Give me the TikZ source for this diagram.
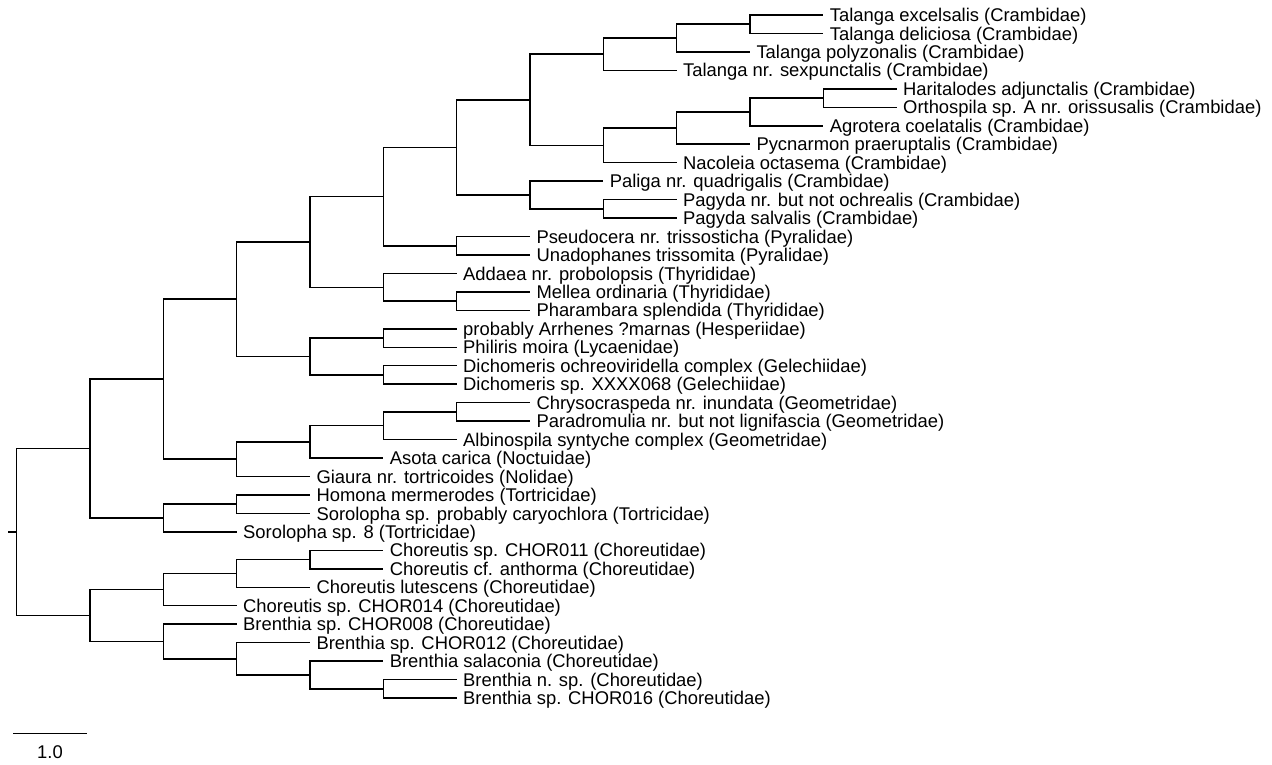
\documentclass[tikz,border=0pt]{standalone}
\usepackage{fontspec}
\setmainfont{Liberation Sans}
\begin{document}
\begin{tikzpicture}[x=1pt,y=-1pt,
  treeline/.style={line width=1.5pt,black,line cap=butt,line join=miter},
  leaflab/.style={anchor=base west,inner sep=0pt,font=\fontsize{18.4}{20}\selectfont,xshift=6.3pt,yshift=-6.6pt},
  scalelab/.style={anchor=base,inner sep=0pt,font=\fontsize{18.4}{20}\selectfont}]
\fill[white] (0,0) rectangle (1272,764);
\useasboundingbox (0,0) rectangle (1272,764);
% internal nodes
\coordinate (stub) at (8.3,532.1);
\coordinate (root) at (16.7,532.1);
\coordinate (nA) at (90,448.6);
\coordinate (nA1) at (163.3,379.2);
\coordinate (n1_21) at (236.7,299.2);
\coordinate (n1_17) at (310,241.9);
\coordinate (n1_14) at (383.3,196.57);
\coordinate (n1_12) at (456.7,147.4);
\coordinate (n1_9) at (530,99.8);
\coordinate (n1_4) at (603.3,54.23);
\coordinate (n1_3) at (676.7,38.08);
\coordinate (n1_2) at (750,24.23);
\coordinate (n5_9) at (603.3,145.37);
\coordinate (n5_8) at (676.7,128.07);
\coordinate (n5_7) at (750,111.92);
\coordinate (n5_6) at (823.3,98.07);
\coordinate (n10_12) at (530,194.99);
\coordinate (n11_12) at (603.3,208.83);
\coordinate (n13_14) at (456.7,245.75);
\coordinate (n15_17) at (383.3,287.28);
\coordinate (n16_17) at (456.7,301.13);
\coordinate (n18_21) at (310,356.51);
\coordinate (n18_19) at (383.3,338.05);
\coordinate (n20_21) at (383.3,374.97);
\coordinate (n22_26) at (236.7,459.2);
\coordinate (n22_25) at (310,441.89);
\coordinate (n22_24) at (383.3,425.74);
\coordinate (n22_23) at (456.7,411.89);
\coordinate (nA2) at (163.3,518.04);
\coordinate (n27_28) at (236.7,504.19);
\coordinate (nB) at (90,615.5);
\coordinate (nB1) at (163.3,589.6);
\coordinate (n30_32) at (236.7,573.4);
\coordinate (n30_31) at (310,559.57);
\coordinate (nB2) at (163.3,641.5);
\coordinate (n35_38) at (236.7,658.8);
\coordinate (n36_38) at (310,674.9);
\coordinate (n37_38) at (383.3,688.79);
% leaf tips
\coordinate (t1) at (823.3,15);
\coordinate (t2) at (823.3,33.46);
\coordinate (t3) at (750,51.92);
\coordinate (t4) at (676.7,70.38);
\coordinate (t5) at (896.7,88.84);
\coordinate (t6) at (896.7,107.3);
\coordinate (t7) at (823.3,125.76);
\coordinate (t8) at (750,144.22);
\coordinate (t9) at (676.7,162.68);
\coordinate (t10) at (603.3,181.14);
\coordinate (t11) at (676.7,199.6);
\coordinate (t12) at (676.7,218.06);
\coordinate (t13) at (530,236.52);
\coordinate (t14) at (530,254.98);
\coordinate (t15) at (456.7,273.44);
\coordinate (t16) at (530,291.9);
\coordinate (t17) at (530,310.36);
\coordinate (t18) at (456.7,328.82);
\coordinate (t19) at (456.7,347.28);
\coordinate (t20) at (456.7,365.74);
\coordinate (t21) at (456.7,384.2);
\coordinate (t22) at (530,402.66);
\coordinate (t23) at (530,421.12);
\coordinate (t24) at (456.7,439.58);
\coordinate (t25) at (383.3,458.04);
\coordinate (t26) at (310,476.5);
\coordinate (t27) at (310,494.96);
\coordinate (t28) at (310,513.42);
\coordinate (t29) at (236.7,531.88);
\coordinate (t30) at (383.3,550.34);
\coordinate (t31) at (383.3,568.8);
\coordinate (t32) at (310,587.26);
\coordinate (t33) at (236.7,605.72);
\coordinate (t34) at (236.7,624.18);
\coordinate (t35) at (310,642.64);
\coordinate (t36) at (383.3,661.1);
\coordinate (t37) at (456.7,679.56);
\coordinate (t38) at (456.7,698.02);
% branches
\draw[treeline] (stub) -- (root);
\foreach \p/\c in {root/nA,root/nB,nA/nA1,nA/nA2,nA1/n1_21,nA1/n22_26,
  n1_21/n1_17,n1_21/n18_21,n1_17/n1_14,n1_17/n15_17,n1_14/n1_12,n1_14/n13_14,
  n1_12/n1_9,n1_12/n10_12,n1_9/n1_4,n1_9/n5_9,n1_4/n1_3,n1_4/t4,n1_3/n1_2,n1_3/t3,
  n1_2/t1,n1_2/t2,n5_9/n5_8,n5_9/t9,n5_8/n5_7,n5_8/t8,n5_7/n5_6,n5_7/t7,
  n5_6/t5,n5_6/t6,n10_12/t10,n10_12/n11_12,n11_12/t11,n11_12/t12,
  n13_14/t13,n13_14/t14,n15_17/t15,n15_17/n16_17,n16_17/t16,n16_17/t17,
  n18_21/n18_19,n18_21/n20_21,n18_19/t18,n18_19/t19,n20_21/t20,n20_21/t21,
  n22_26/n22_25,n22_26/t26,n22_25/n22_24,n22_25/t25,n22_24/n22_23,n22_24/t24,
  n22_23/t22,n22_23/t23,nA2/n27_28,nA2/t29,n27_28/t27,n27_28/t28,
  nB/nB1,nB/nB2,nB1/n30_32,nB1/t33,n30_32/n30_31,n30_32/t32,n30_31/t30,n30_31/t31,
  nB2/t34,nB2/n35_38,n35_38/t35,n35_38/n36_38,n36_38/t36,n36_38/n37_38,
  n37_38/t37,n37_38/t38}
  \draw[treeline] (\p) |- (\c);
% leaf labels
\node[leaflab] (l1) at (t1) {Talanga excelsalis (Crambidae)};
\node[leaflab] (l2) at (t2) {Talanga deliciosa (Crambidae)};
\node[leaflab] (l3) at (t3) {Talanga polyzonalis (Crambidae)};
\node[leaflab] (l4) at (t4) {Talanga nr. sexpunctalis (Crambidae)};
\node[leaflab] (l5) at (t5) {Haritalodes adjunctalis (Crambidae)};
\node[leaflab] (l6) at (t6) {Orthospila sp. A nr. orissusalis (Crambidae)};
\node[leaflab] (l7) at (t7) {Agrotera coelatalis (Crambidae)};
\node[leaflab] (l8) at (t8) {Pycnarmon praeruptalis (Crambidae)};
\node[leaflab] (l9) at (t9) {Nacoleia octasema (Crambidae)};
\node[leaflab] (l10) at (t10) {Paliga nr. quadrigalis (Crambidae)};
\node[leaflab] (l11) at (t11) {Pagyda nr. but not ochrealis (Crambidae)};
\node[leaflab] (l12) at (t12) {Pagyda salvalis (Crambidae)};
\node[leaflab] (l13) at (t13) {Pseudocera nr. trissosticha (Pyralidae)};
\node[leaflab] (l14) at (t14) {Unadophanes trissomita (Pyralidae)};
\node[leaflab] (l15) at (t15) {Addaea nr. probolopsis (Thyrididae)};
\node[leaflab] (l16) at (t16) {Mellea ordinaria (Thyrididae)};
\node[leaflab] (l17) at (t17) {Pharambara splendida (Thyrididae)};
\node[leaflab] (l18) at (t18) {probably Arrhenes ?marnas (Hesperiidae)};
\node[leaflab] (l19) at (t19) {Philiris moira (Lycaenidae)};
\node[leaflab] (l20) at (t20) {Dichomeris ochreoviridella complex (Gelechiidae)};
\node[leaflab] (l21) at (t21) {Dichomeris sp. XXXX068 (Gelechiidae)};
\node[leaflab] (l22) at (t22) {Chrysocraspeda nr. inundata (Geometridae)};
\node[leaflab] (l23) at (t23) {Paradromulia nr. but not lignifascia (Geometridae)};
\node[leaflab] (l24) at (t24) {Albinospila syntyche complex (Geometridae)};
\node[leaflab] (l25) at (t25) {Asota carica (Noctuidae)};
\node[leaflab] (l26) at (t26) {Giaura nr. tortricoides (Nolidae)};
\node[leaflab] (l27) at (t27) {Homona mermerodes (Tortricidae)};
\node[leaflab] (l28) at (t28) {Sorolopha sp. probably caryochlora (Tortricidae)};
\node[leaflab] (l29) at (t29) {Sorolopha sp. 8 (Tortricidae)};
\node[leaflab] (l30) at (t30) {Choreutis sp. CHOR011 (Choreutidae)};
\node[leaflab] (l31) at (t31) {Choreutis cf. anthorma (Choreutidae)};
\node[leaflab] (l32) at (t32) {Choreutis lutescens (Choreutidae)};
\node[leaflab] (l33) at (t33) {Choreutis sp. CHOR014 (Choreutidae)};
\node[leaflab] (l34) at (t34) {Brenthia sp. CHOR008 (Choreutidae)};
\node[leaflab] (l35) at (t35) {Brenthia sp. CHOR012 (Choreutidae)};
\node[leaflab] (l36) at (t36) {Brenthia salaconia (Choreutidae)};
\node[leaflab] (l37) at (t37) {Brenthia n. sp. (Choreutidae)};
\node[leaflab] (l38) at (t38) {Brenthia sp. CHOR016 (Choreutidae)};
% scale bar
\coordinate (sb1) at (13.3,733.3);
\coordinate (sb2) at (86.7,733.3);
\draw[treeline] (sb1) -- (sb2);
\node[scalelab] (sbl) at (50,758.5) {1.0};
\end{tikzpicture}
\end{document}
